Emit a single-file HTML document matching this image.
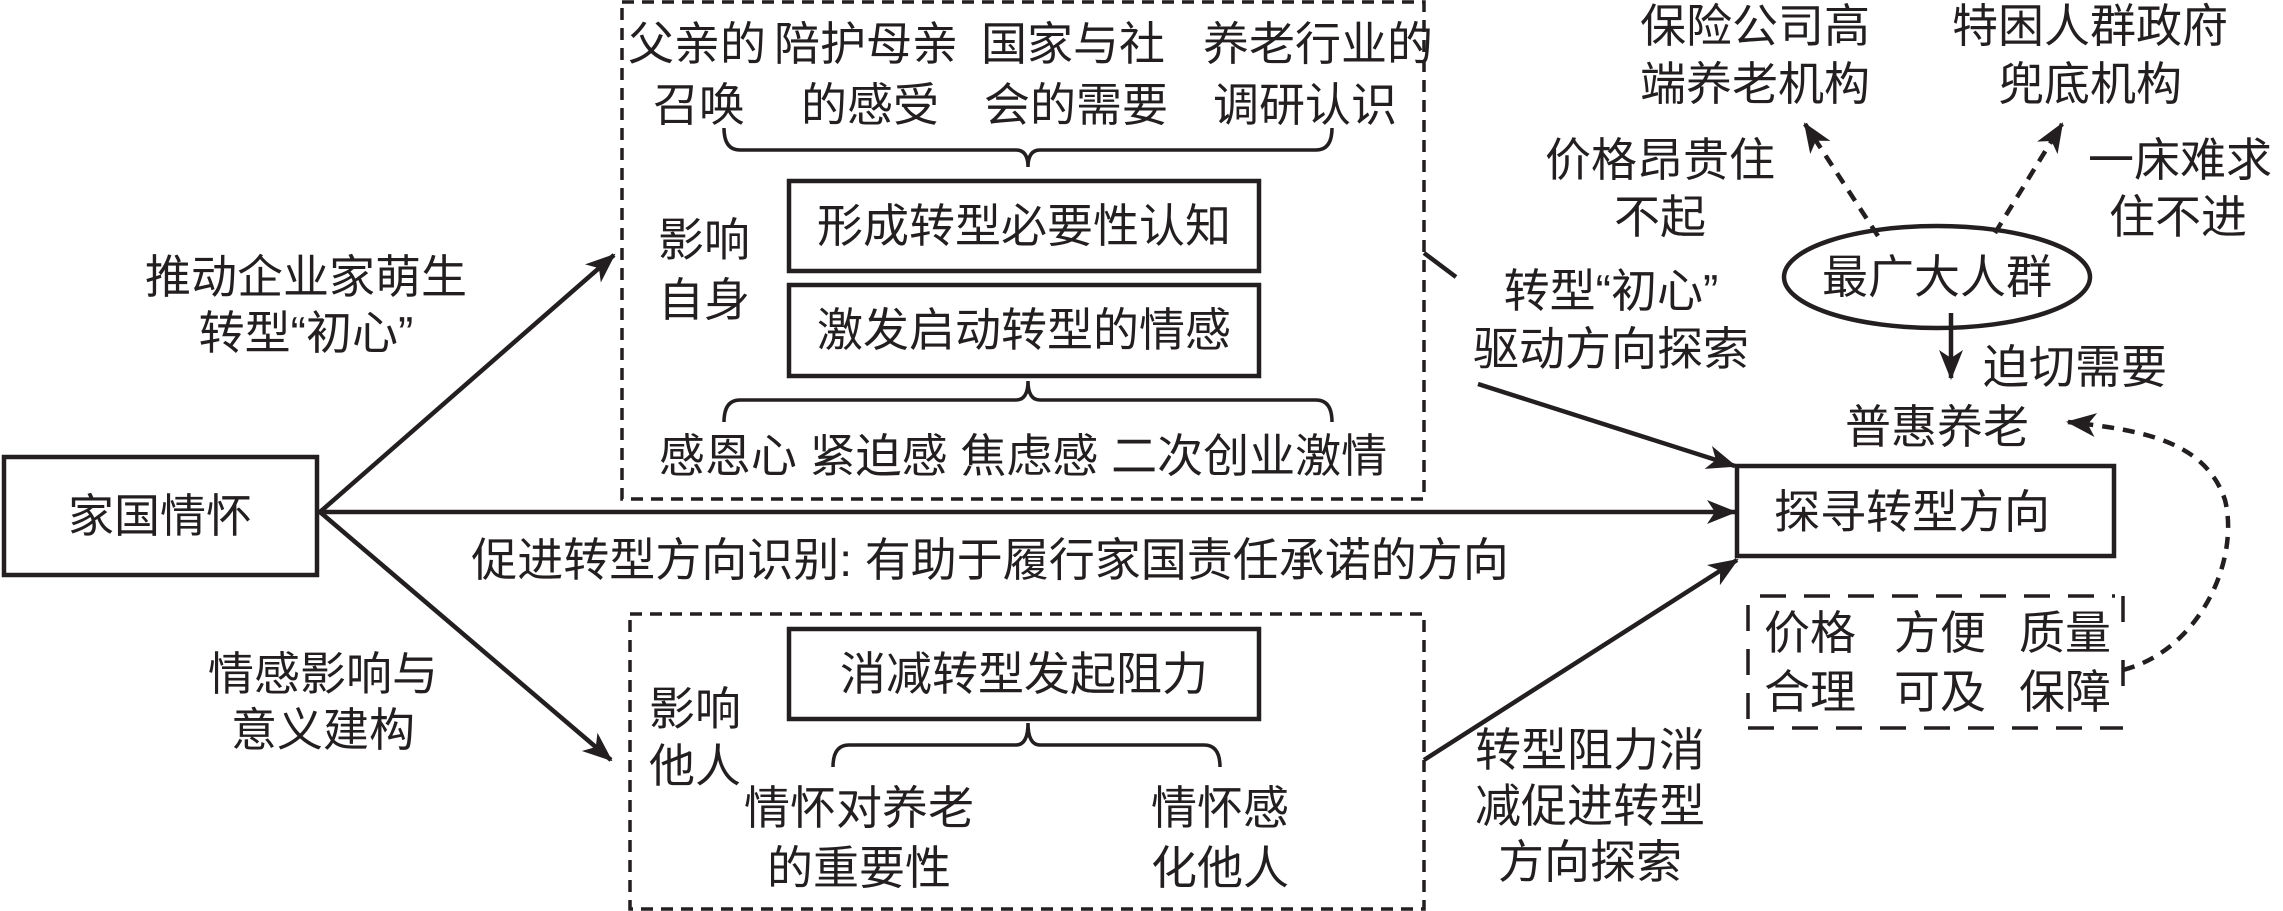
<!DOCTYPE html>
<html><head><meta charset="utf-8"><style>
html,body{margin:0;padding:0;background:#fff;}
svg{display:block;}
text{font-family:"Liberation Sans","Noto Sans CJK SC",sans-serif;font-size:46px;fill:#231f20;text-anchor:middle;dominant-baseline:central;}
</style></head><body>
<svg width="2283" height="911" viewBox="0 0 2283 911" xmlns="http://www.w3.org/2000/svg">
<defs>
<marker id="b" markerWidth="30" markerHeight="30" refX="28" refY="15" orient="auto" markerUnits="userSpaceOnUse" viewBox="0 0 30 30"><path d="M0,3 L30,15 L0,27 L8,15 Z" fill="#231f20"/></marker>
</defs>
<g stroke="#231f20" fill="none" stroke-width="4.5">
<rect x="4" y="457" width="313" height="118"/>
<rect x="789" y="181" width="470" height="90"/>
<rect x="789" y="285" width="470" height="91"/>
<rect x="789" y="629" width="470" height="90"/>
<rect x="1737" y="466" width="377" height="90"/>
<ellipse cx="1937" cy="277" rx="153" ry="51"/>
</g>
<g stroke="#231f20" fill="none" stroke-width="3.5" stroke-dasharray="12,8">
<rect x="622" y="2" width="802" height="497"/>
<rect x="630" y="614" width="794" height="295"/>
</g>
<g stroke="#231f20" fill="none" stroke-width="3.5" stroke-dasharray="26,18">
<path d="M1748,605 V727 M1748,728 H2123 M1760,596 H2115 M2123,596 V625 M2123,660 V690"/>
</g>
<g stroke="#231f20" fill="none" stroke-width="3.5">
<path d="M724,128 Q724,150 740,150 H1016 Q1028,150 1028,167 Q1028,150 1040,150 H1316 Q1332,150 1332,128"/>
<path d="M724,422 Q724,400 740,400 H1016 Q1028,400 1028,381 Q1028,400 1040,400 H1316 Q1332,400 1332,422"/>
<path d="M833,767 Q833,745 849,745 H1016 Q1028,745 1028,723 Q1028,745 1040,745 H1204 Q1220,745 1220,767"/>
</g>
<g stroke="#231f20" fill="none" stroke-width="4.5">
<path d="M320,512 L614,255" marker-end="url(#b)"/>
<path d="M320,512 L611,760" marker-end="url(#b)"/>
<path d="M317,512 H1735" marker-end="url(#b)"/>
<path d="M1424,253 L1456,277"/>
<path d="M1478,384 L1735,466" marker-end="url(#b)"/>
<path d="M1424,760 L1737,560" marker-end="url(#b)"/>
<path d="M1951,313 V378" marker-end="url(#b)"/>
</g>
<g stroke="#231f20" fill="none" stroke-width="4.5" stroke-dasharray="12,9">
<path d="M1878,236 L1805,124" marker-end="url(#b)"/>
<path d="M1995,233 L2062,124" marker-end="url(#b)"/>
<path d="M2123,670 C2200,650 2240,560 2225,500 C2205,440 2140,430 2068,422" marker-end="url(#b)"/>
</g>
<g font-size="43">
<text x="697" y="44">父亲的</text><text x="699" y="105">召唤</text>
<text x="866" y="44">陪护母亲</text><text x="870" y="105">的感受</text>
<text x="1073" y="44">国家与社</text><text x="1076" y="105">会的需要</text>
<text x="1318" y="44">养老行业的</text><text x="1305" y="105">调研认识</text>
</g>
<text x="160" y="516" font-size="50">家国情怀</text>
<text x="1024" y="226" font-size="49">形成转型必要性认知</text>
<text x="1024" y="330" font-size="49">激发启动转型的情感</text>
<text x="704" y="240">影响</text><text x="704" y="300">自身</text>
<text x="1023" y="456" font-size="45">感恩心 紧迫感 焦虑感 二次创业激情</text>
<text x="306" y="277">推动企业家萌生</text><text x="306" y="333">转型“初心”</text>
<text x="990" y="560">促进转型方向识别: 有助于履行家国责任承诺的方向</text>
<text x="323" y="674">情感影响与</text><text x="323" y="730">意义建构</text>
<text x="1024" y="674" font-size="49">消减转型发起阻力</text>
<text x="695" y="709">影响</text><text x="695" y="766">他人</text>
<text x="859" y="808">情怀对养老</text><text x="859" y="868">的重要性</text>
<text x="1220" y="808">情怀感</text><text x="1220" y="868">化他人</text>
<text x="1611" y="291">转型“初心”</text><text x="1611" y="349">驱动方向探索</text>
<text x="1590" y="750">转型阻力消</text><text x="1590" y="806">减促进转型</text><text x="1590" y="862">方向探索</text>
<text x="1912" y="512" font-size="48">探寻转型方向</text>
<text x="1937" y="277" font-size="48">最广大人群</text>
<text x="2075" y="367">迫切需要</text>
<text x="1937" y="427">普惠养老</text>
<text x="1755" y="26">保险公司高</text><text x="1755" y="84">端养老机构</text>
<text x="2090" y="26">特困人群政府</text><text x="2090" y="84">兜底机构</text>
<text x="1660" y="160">价格昂贵住</text><text x="1660" y="217">不起</text>
<text x="2180" y="160">一床难求</text><text x="2178" y="217">住不进</text>
<text x="1810" y="633">价格</text><text x="1810" y="692">合理</text>
<text x="1940" y="633">方便</text><text x="1940" y="692">可及</text>
<text x="2065" y="633">质量</text><text x="2065" y="692">保障</text>
</svg>
</body></html>
